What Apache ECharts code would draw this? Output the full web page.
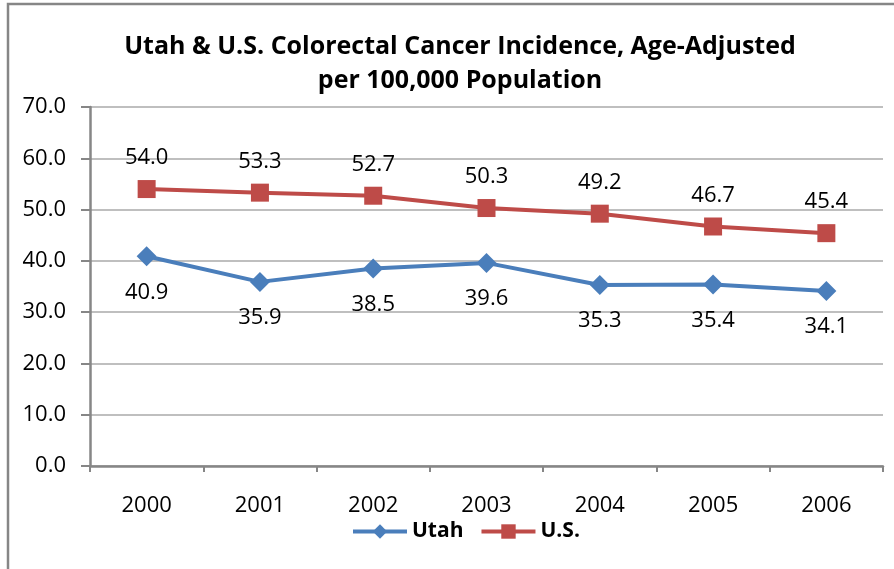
<!DOCTYPE html>
<html>
<head>
<meta charset="utf-8">
<style>
  html, body { margin: 0; padding: 0; background: #fff; }
  #chart { width: 894px; height: 569px; }
</style>
<script src="https://cdn.jsdelivr.net/npm/echarts@6/dist/echarts.min.js"></script>
</head>
<body>
<div id="chart"></div>
<script>
// Colorectal cancer incidence, age-adjusted rate per 100,000
const years = ['2000', '2001', '2002', '2003', '2004', '2005', '2006'];
const utahRates = [40.9, 35.9, 38.5, 39.6, 35.3, 35.4, 34.1];
const usRates = [54.0, 53.3, 52.7, 50.3, 49.2, 46.7, 45.4];

const FONT = '"Open Sans", sans-serif';
const BLUE = '#4A7EBB';
const RED = '#BE4B48';

const chart = echarts.init(document.getElementById('chart'));
chart.setOption({
  animation: false,
  backgroundColor: '#fff',
  title: {
    text: 'Utah & U.S. Colorectal Cancer Incidence, Age-Adjusted\nper 100,000 Population',
    left: 455,
    textAlign: 'center',
    top: 25,
    textStyle: {
      fontFamily: FONT, fontWeight: 'bold', fontSize: 25,
      color: '#000', lineHeight: 34
    }
  },
  graphic: [{
    type: 'rect',
    shape: { x: 8, y: 4, width: 960, height: 640 },
    style: { fill: 'none', stroke: '#868686', lineWidth: 2.5 },
    silent: true
  }],
  legend: {
    bottom: 22,
    left: 346,
    itemWidth: 54,
    itemHeight: 18,
    itemGap: 16,
    textStyle: { fontFamily: FONT, fontWeight: 'bold', fontSize: 21, color: '#000' },
    data: [
      { name: 'Utah', lineStyle: { width: 4 } },
      { name: 'U.S.', lineStyle: { width: 4 } }
    ]
  },
  grid: { left: 90, right: 11, top: 107, bottom: 103 },
  xAxis: {
    type: 'category',
    data: years,
    boundaryGap: true,
    axisLine: { lineStyle: { color: '#868686', width: 2.5 } },
    axisTick: { show: true, length: 6, lineStyle: { color: '#868686', width: 2 } },
    axisLabel: { fontFamily: FONT, fontSize: 22, color: '#000', margin: 29 }
  },
  yAxis: {
    type: 'value',
    min: 0, max: 70, interval: 10,
    axisLine: { show: true, lineStyle: { color: '#868686', width: 2.5 } },
    axisTick: { show: true, length: 9, lineStyle: { color: '#868686', width: 2 } },
    splitLine: { lineStyle: { color: '#BFBFBF', width: 2 } },
    axisLabel: {
      fontFamily: FONT, fontSize: 22, color: '#000', margin: 24,
      formatter: v => v.toFixed(1)
    }
  },
  series: [
    {
      name: 'Utah',
      type: 'line',
      data: utahRates,
      symbol: 'diamond',
      symbolSize: 20,
      color: BLUE,
      lineStyle: { width: 4, color: BLUE },
      itemStyle: { color: BLUE },
      label: {
        show: true, position: 'bottom', distance: 15,
        fontFamily: FONT, fontSize: 22, color: '#000',
        formatter: p => p.value.toFixed(1)
      }
    },
    {
      name: 'U.S.',
      type: 'line',
      data: usRates,
      symbol: 'rect',
      symbolSize: 18,
      color: RED,
      lineStyle: { width: 4, color: RED },
      itemStyle: { color: RED },
      label: {
        show: true, position: 'top', distance: 11,
        fontFamily: FONT, fontSize: 22, color: '#000',
        formatter: p => p.value.toFixed(1)
      }
    }
  ]
});
</script>
</body>
</html>
